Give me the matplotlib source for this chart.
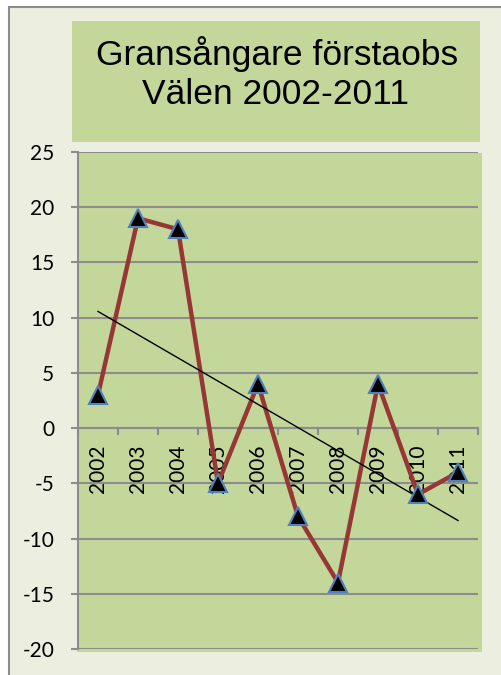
import matplotlib
matplotlib.use("Agg")
import matplotlib.pyplot as plt
from matplotlib.patches import Rectangle
import numpy as np

years = ["2002", "2003", "2004", "2005", "2006", "2007", "2008", "2009", "2010", "2011"]
values = [3, 19, 18, -5, 4, -8, -14, 4, -6, -4]
yticks = [-20, -15, -10, -5, 0, 5, 10, 15, 20, 25]
title_lines = ["Gransångare förstaobs", "Välen 2002-2011"]

W, H = 501, 675
fig = plt.figure(figsize=(W / 100, H / 100), dpi=100)
fig.patch.set_facecolor("white")

def fx(px):
    return px / W

def fy(py):
    return 1 - py / H

# outer chart background with border
fig.patches.append(Rectangle((fx(9), fy(H + 10)), fx(W + 10 - 9), fy(7) - fy(H + 10),
                             transform=fig.transFigure, facecolor="#ECEFE0",
                             edgecolor="#8C8C8C", linewidth=1.5, zorder=0))
# title box
fig.patches.append(Rectangle((fx(72), fy(142)), fx(480 - 72), fy(21) - fy(142),
                             transform=fig.transFigure, facecolor="#C4D79B",
                             edgecolor="none", zorder=1))
# plot area fill
fig.patches.append(Rectangle((fx(77), fy(652)), fx(482 - 77), fy(153) - fy(652),
                             transform=fig.transFigure, facecolor="#C4D79B",
                             edgecolor="none", zorder=1))

fig.text(fx(277), fy(65), title_lines[0], ha="center", va="baseline", fontsize=25.5,
         family="Liberation Sans", color="black", zorder=3)
fig.text(fx(276), fy(104), title_lines[1], ha="center", va="baseline", fontsize=25.5,
         family="Liberation Sans", color="black", zorder=3)

ax = fig.add_axes([fx(78), fy(649), fx(478 - 78), fy(152) - fy(649)])
ax.set_facecolor("none")
ax.set_zorder(2)

x = np.arange(1, len(years) + 1)
ax.set_xlim(0.5, len(years) + 0.5)
ax.set_ylim(-20, 25)
ax.set_yticks(yticks)
ax.set_yticklabels([str(v) for v in yticks], family="Lato", fontsize=15)
ax.yaxis.grid(True, color="#8C8C8C", linewidth=1.5)
ax.set_axisbelow(True)

for s in ["top", "right"]:
    ax.spines[s].set_visible(False)
ax.spines["left"].set_color("#8C8C8C")
ax.spines["left"].set_linewidth(1.5)
ax.spines["bottom"].set_position(("data", 0))
ax.spines["bottom"].set_color("#8C8C8C")
ax.spines["bottom"].set_linewidth(1.5)

ax.tick_params(axis="y", length=5, width=1.5, color="#8C8C8C", pad=12)
ax.set_xticks(x)
ax.set_xticklabels(years, rotation=90, family="Lato", fontsize=15)
ax.tick_params(axis="x", which="major", length=0, pad=12)
ax.set_xticks(np.arange(0.5, len(years) + 1, 1), minor=True)
ax.tick_params(axis="x", which="minor", length=5, width=1.5, color="#8C8C8C", direction="out")

ax.plot(x, values, color="#953735", linewidth=3.2, zorder=3, solid_joinstyle="miter")
ax.plot(x, values, linestyle="none", marker="^", markersize=12.5, markerfacecolor="black",
        markeredgecolor="#4F81BD", markeredgewidth=1.5, zorder=4)

coef = np.polyfit(x, values, 1)
ax.plot(x, np.polyval(coef, x), color="black", linewidth=1, zorder=3.5)

fig.savefig("out.png", dpi=100)
